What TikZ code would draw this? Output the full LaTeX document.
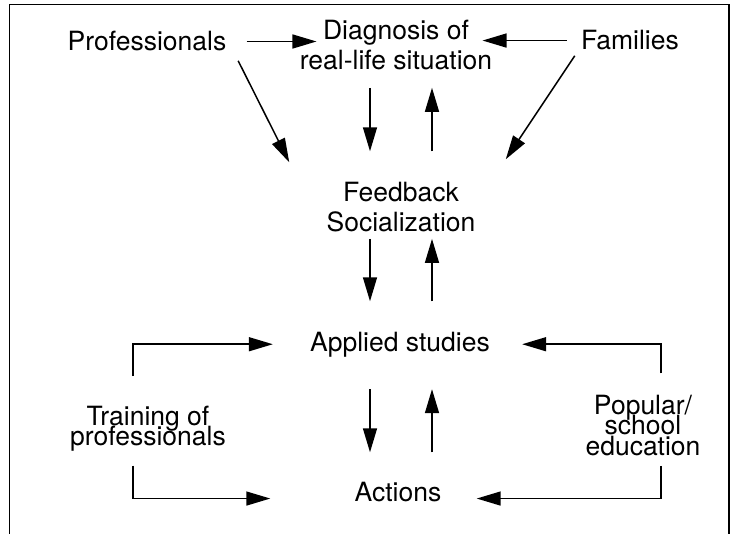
\documentclass[tikz,border=0pt]{standalone}
\usepackage{fontspec}
\setmainfont{TeX Gyre Heros}
\usetikzlibrary{arrows.meta}

\begin{document}
\begin{tikzpicture}[x=0.5pt, y=-0.5pt,
    lbl/.style={align=center, inner sep=0pt, font=\fontsize{13.25}{15}\selectfont},
    tight/.style={lbl, font=\fontsize{13.25}{10.25}\selectfont,
        execute at begin node={\lineskiplimit=-20pt\relax}},
    arr/.style={-{Triangle[length=12pt, width=7pt]}, line width=0.75pt},
    gap/.style 2 args={shorten <=#1, shorten >=#2}]
    \useasboundingbox (0,0) rectangle (734,534);
    % frame, open at the bottom
    \draw[line width=0.7pt] (9.5,534) -- (9.5,4.5) -- (729,4.5) -- (729,534);

    \node[lbl, anchor=base] (prof) at (147,51) {Professionals};
    \node[lbl, anchor=base] (diag) at (396,70) {Diagnosis of\\real-life situation};
    \node[lbl, anchor=base] (fam) at (630,50) {Families};
    \node[lbl, anchor=base] (feed) at (401,232) {Feedback\\Socialization};
    \node[lbl, anchor=base] (appl) at (400,351) {Applied studies};
    \node[lbl, anchor=base] (act) at (398,502) {Actions};
    \node[tight, anchor=base] (train) at (148,445.5) {Training of\\professionals};
    \node[tight, anchor=base] (pop) at (643,455) {Popular/\\school\\education};

    % columns for the arrows
    \coordinate (lcol) at (370,0);
    \coordinate (rcol) at (432,0);
    \coordinate (lx) at (133,0);
    \coordinate (rx) at (661,0);

    % top row
    \draw[arr, gap={10pt}{-8.5pt}] (prof.east) -- (prof.east -| diag.west);
    \draw[arr, gap={7pt}{-5pt}] (fam.west) -- (fam.west -| diag.east);
    \draw[arr] ([shift={(11.5,9)}]prof.south east) -- ([shift={(-37,-20)}]feed.north west);
    \draw[arr] ([shift={(-6,5)}]fam.south west) -- ([shift={(30,-23)}]feed.north east);

    % middle column
    \draw[arr, gap={8.5pt}{15.5pt}] (diag.south -| lcol) -- (feed.north -| lcol);
    \draw[arr, gap={15.5pt}{8.5pt}] (feed.north -| rcol) -- (diag.south -| rcol);
    \draw[arr, gap={3pt}{15pt}] (feed.south -| lcol) -- (appl.north -| lcol);
    \draw[arr, gap={15pt}{3pt}] (appl.north -| rcol) -- (feed.south -| rcol);
    \draw[arr, gap={16pt}{15pt}] (appl.south -| lcol) -- (act.north -| lcol);
    \draw[arr, gap={15pt}{16pt}] (act.north -| rcol) -- (appl.south -| rcol);

    % side loops
    \draw[arr, gap={14.5pt}{18.5pt}] (train.north -| lx) |- (appl.west);
    \draw[arr, gap={7pt}{42pt}] (train.south -| lx) |- ([yshift=-3pt]act.west);
    \draw[arr, gap={10.5pt}{16pt}] (pop.north -| rx) |- (appl.east);
    \draw[arr, gap={5pt}{17.5pt}] (pop.south -| rx) |- ([yshift=-3pt]act.east);
\end{tikzpicture}
\end{document}
